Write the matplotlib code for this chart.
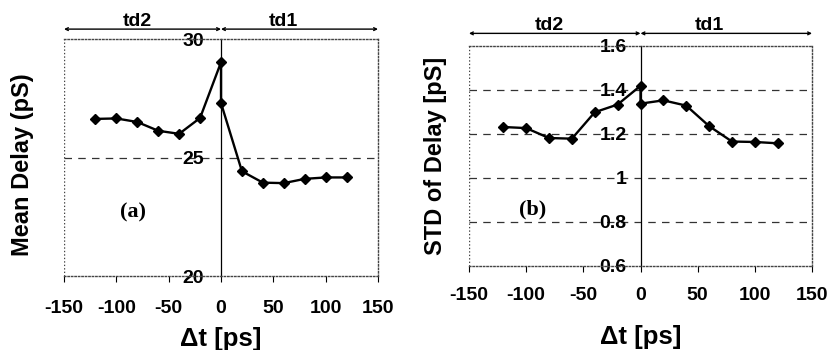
import numpy as np
import matplotlib
matplotlib.use('Agg')
import matplotlib.pyplot as plt

# data
dt = [-120, -100, -80, -60, -40, -20, 0, 0, 20, 40, 60, 80, 100, 120]
mean_delay = [26.63, 26.65, 26.5, 26.13, 26.0, 26.67, 29.02,
              27.3, 24.42, 23.94, 23.92, 24.1, 24.16, 24.16]
std_delay = [1.231, 1.226, 1.181, 1.178, 1.298, 1.333, 1.418,
             1.337, 1.352, 1.328, 1.235, 1.165, 1.163, 1.157]

x_ticks = [-150, -100, -50, 0, 50, 100, 150]
mean_ticks = [20, 25, 30]
std_ticks = [0.6, 0.8, 1.0, 1.2, 1.4, 1.6]
std_labels = ['0.6', '0.8', '1', '1.2', '1.4', '1.6']

plt.rcParams['font.family'] = ['Liberation Sans', 'DejaVu Sans']
plt.rcParams['font.weight'] = 'bold'
plt.rcParams['axes.unicode_minus'] = False

fig = plt.figure(figsize=(8.4, 3.5), dpi=100)
ax1 = fig.add_axes([0.0762, 0.2114, 0.3738, 0.677])
ax2 = fig.add_axes([0.5583, 0.24, 0.4084, 0.6294])


def style_axes(ax, y, yticks, ylabels, ylabel, tag, tag_pos, bar_y, ypad, xpad):
    ax.plot(dt, y, color='black', lw=1.7, marker='D', ms=5.5, zorder=3)
    ax.set_xlim(x_ticks[0], x_ticks[-1])
    ax.set_ylim(yticks[0], yticks[-1])
    # dotted box around the plot area
    for s in ['top', 'right', 'bottom']:
        ax.spines[s].set_linestyle((0, (1, 1.5)))
        ax.spines[s].set_color('#444444')
        ax.spines[s].set_linewidth(1.0)
    ax.axvline(x_ticks[0], color='#444444', lw=1.0, ls=(0, (1, 1.5)))
    # y axis sits at dt = 0
    ax.spines['left'].set_position(('data', 0))
    ax.spines['left'].set_linewidth(0.9)
    ax.set_yticks(yticks)
    ax.set_yticklabels(ylabels)
    ax.tick_params(axis='y', length=0, pad=ypad, labelsize=14)
    ax.set_xticks(x_ticks)
    ax.tick_params(axis='x', length=4.3, width=0.8, direction='out',
                   labelsize=14, pad=xpad)
    for v in yticks[1:-1]:
        ax.axhline(v, color='#333333', lw=0.9, ls=(0, (6, 5)), zorder=1)
    ax.set_xlabel('\u0394t [ps]', fontsize=18.5, fontweight='bold')
    ax.set_ylabel(ylabel, fontsize=17, fontweight='bold')
    ax.text(tag_pos[0], tag_pos[1], tag, family='Liberation Serif',
            fontsize=16, fontweight='bold', ha='center', va='center')
    # td2 / td1 ranges above the plot
    tr = ax.get_xaxis_transform()
    for x0, x1, name, xt in [(x_ticks[0], 0, 'td2', -80), (0, x_ticks[-1], 'td1', 60)]:
        ax.annotate('', xy=(x0, bar_y), xytext=(x1, bar_y), xycoords=tr,
                    textcoords=tr, annotation_clip=False,
                    arrowprops=dict(arrowstyle='<->', lw=1.0, color='black',
                                    shrinkA=0, shrinkB=0, mutation_scale=5))
        ax.text(xt, bar_y - 0.005, name, transform=tr, ha='center', va='bottom',
                fontsize=14, fontweight='bold')


style_axes(ax1, mean_delay, mean_ticks, [str(v) for v in mean_ticks],
           'Mean Delay (pS)', '(a)', (-84, 22.7), 1.042, 12, 13)
ax1.xaxis.set_label_coords(0.5, -0.215)
ax1.yaxis.set_label_coords(-0.096, 0.47)

style_axes(ax2, std_delay, std_ticks, std_labels,
           'STD of Delay [pS]', '(b)', (-94, 0.855), 1.056, 10, 11)
ax2.xaxis.set_label_coords(0.5, -0.268)
ax2.yaxis.set_label_coords(-0.064, 0.5)

fig.savefig('out.png', dpi=100)
